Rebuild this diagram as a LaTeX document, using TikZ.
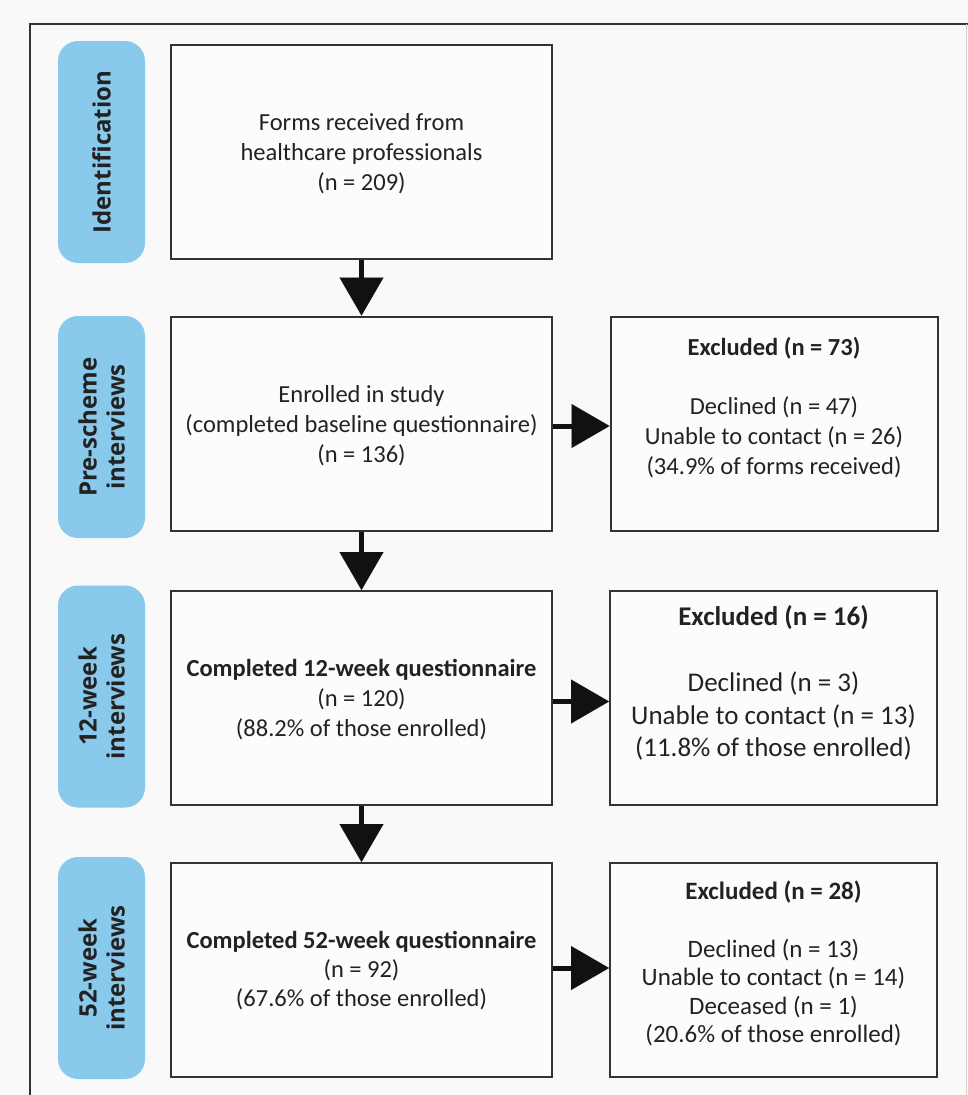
\documentclass[tikz,border=0pt]{standalone}
\usepackage{fontspec}
\setmainfont{Carlito}
\newfontfamily\pillfont{Open Sans}
\usetikzlibrary{arrows.meta}
\definecolor{bg}{HTML}{F9F9F9}
\definecolor{boxfill}{HTML}{FCFCFC}
\definecolor{pillblue}{HTML}{89C9EC}
\definecolor{ink}{HTML}{222222}
\definecolor{edge}{HTML}{333333}
\definecolor{arrowink}{HTML}{111111}
\begin{document}
\begin{tikzpicture}[x=1pt,y=-1pt,
  box/.style={draw=edge,line width=2pt,fill=boxfill,minimum width=381pt,minimum height=214pt,inner sep=0pt},
  exbox/.style={box,minimum width=327pt},
  pill/.style={rotate=90,fill=pillblue,rounded corners=20pt,minimum width=222pt,minimum height=87pt,
    inner sep=0pt,align=center,text=ink,font=\pillfont\bfseries\fontsize{24}{28}\selectfont},
  txt/.style={align=center,text=ink,inner sep=0pt,font=\fontsize{24.5}{30}\selectfont},
  arr/.style={draw=arrowink,line width=5pt,-{Triangle[width=44pt,length=38pt,line width=0.01pt]}}]
\useasboundingbox (0,0) rectangle (968,1095);
\clip (0,0) rectangle (968,1095);
\fill[bg] (0,0) rectangle (968,1095);
\draw[edge,line width=2pt] (30,1110) -- (30,24) -- (975,24);
\draw[black!18,line width=1pt] (966,24) -- (966,1110);

% stage labels
\node[pill] (p1) at (101.5,152) {Identification};
\node[pill] (p2) at (101.5,427) {Pre-scheme\\interviews};
\node[pill] (p3) at (101.5,696.5) {12-week\\interviews};
\node[pill] (p4) at (101.5,968) {52-week\\interviews};

% main boxes
\node[box] (b1) at (361.5,151.5) {};
\node[box] (b2) at (361.5,423.5) {};
\node[box] (b3) at (361.5,698) {};
\node[box] (b4) at (361.5,970) {};

% excluded boxes
\node[exbox] (e2) at (774,423.5) {};
\node[exbox] (e3) at (773.5,698) {};
\node[exbox] (e4) at (773.5,970) {};

% texts
\node[txt] (t1) at (361.5,154) {Forms received from\\healthcare professionals\\(n = 209)};
\node[txt] (t2) at (361.5,426) {Enrolled in study\\(completed baseline questionnaire)\\(n = 136)};
\node[txt] (t3) at (361.5,700) {\textbf{Completed 12-week questionnaire}\\(n = 120)\\(88.2\% of those enrolled)};
\node[txt,font=\fontsize{24.5}{29}\selectfont] (t4) at (361.5,971) {\textbf{Completed 52-week questionnaire}\\(n = 92)\\(67.6\% of those enrolled)};

\node[txt,font=\bfseries\fontsize{24.5}{30}\selectfont] (h2) at (774,348) {Excluded (n = 73)};
\node[txt] (x2) at (774,437) {Declined (n = 47)\\Unable to contact (n = 26)\\(34.9\% of forms received)};

\node[txt,font=\bfseries\fontsize{27}{32.5}\selectfont] (h3) at (773.5,618) {Excluded (n = 16)};
\node[txt,font=\fontsize{27}{32.5}\selectfont] (x3) at (773.5,716) {Declined (n = 3)\\Unable to contact (n = 13)\\(11.8\% of those enrolled)};

\node[txt,font=\bfseries\fontsize{25}{30}\selectfont] (h4) at (773.5,892) {Excluded (n = 28)};
\node[txt,font=\fontsize{25}{28.5}\selectfont] (x4) at (773.5,992.5) {Declined (n = 13)\\Unable to contact (n = 14)\\Deceased (n = 1)\\(20.6\% of those enrolled)};

% connectors
\draw[arr] (b1) -- (b2);
\draw[arr] (b2) -- (b3);
\draw[arr] (b3) -- (b4);
\draw[arr] ([yshift=-2.5pt]b2.east) -- ([yshift=-2.5pt]e2.west);
\draw[arr] ([yshift=-3.5pt]b3.east) -- ([yshift=-3.5pt]e3.west);
\draw[arr] ([yshift=2pt]b4.east) -- ([yshift=2pt]e4.west);
\end{tikzpicture}
\end{document}
